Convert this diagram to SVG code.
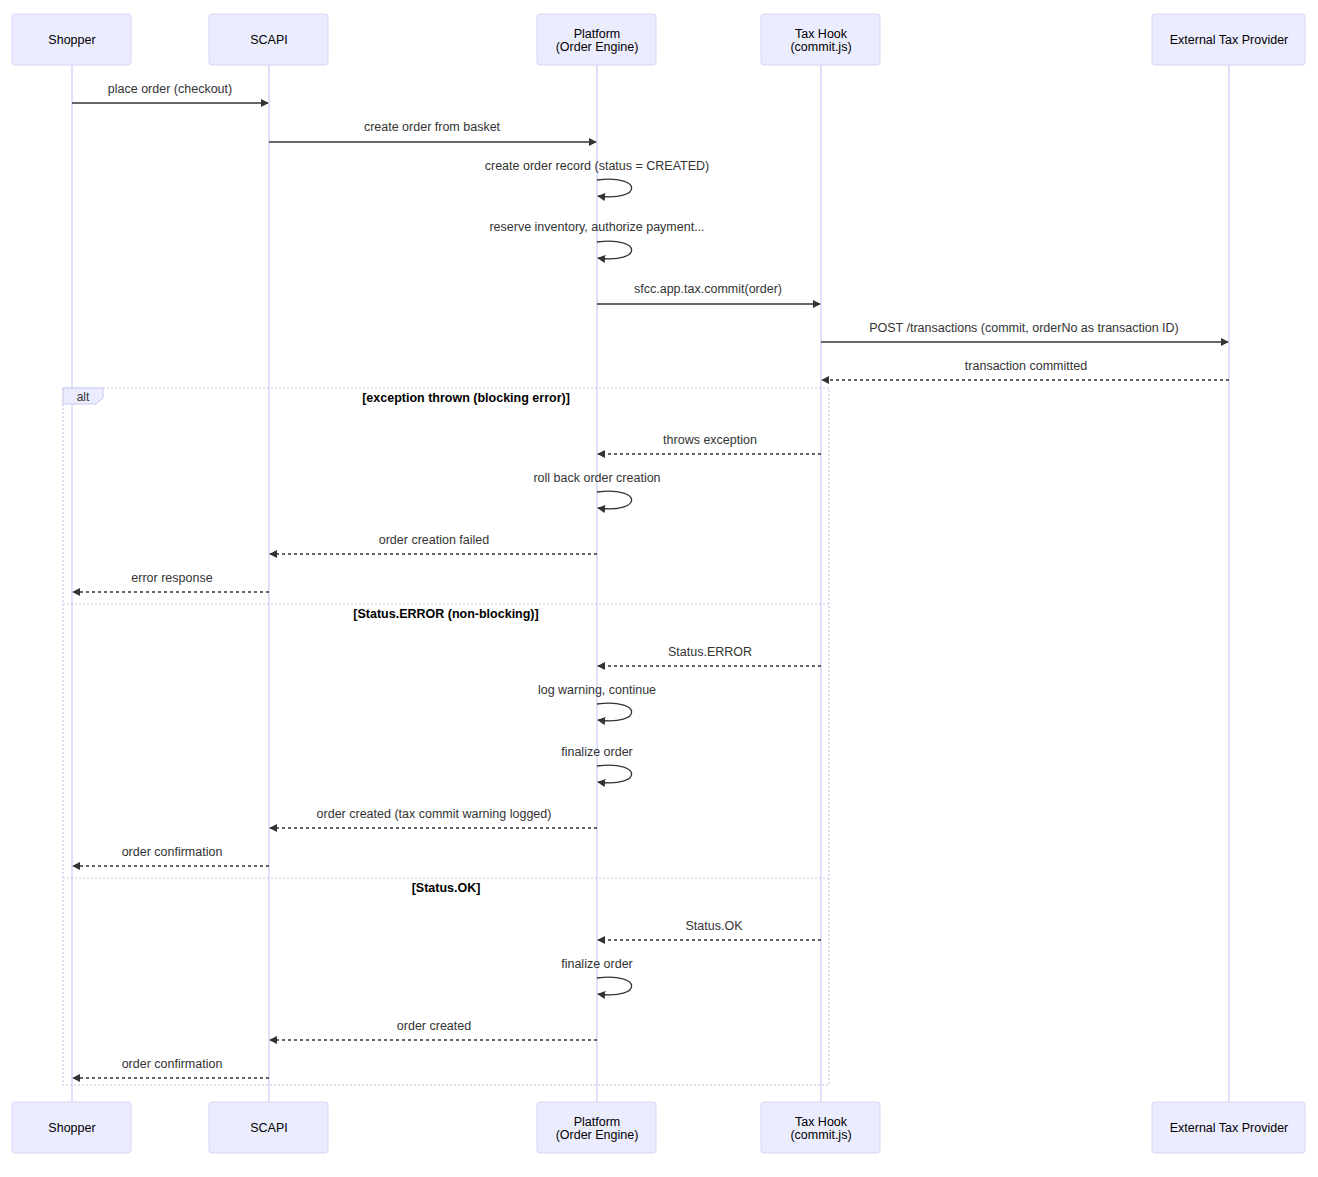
<svg xmlns="http://www.w3.org/2000/svg" width="1318" height="1177" viewBox="0 0 1318 1177">
<style>
text{font-family:"Liberation Sans",Arial,sans-serif;font-size:12.5px;fill:#333;text-anchor:middle}
.actor rect{fill:#ECECFF;stroke:#d6d6f7;stroke-width:1}
.actor text{fill:#000}
.life{stroke:#d6d6f7;stroke-width:1.5}
.m{stroke:#333;stroke-width:1.3;fill:none;marker-end:url(#ah)}
.d{stroke-dasharray:3,3}
.frame{fill:none;stroke:#c8c8e8;stroke-width:1.2;stroke-dasharray:2,2}
.b{font-weight:bold;fill:#000}
</style>
<defs>
<marker id="ah" viewBox="0 0 10 10" refX="9" refY="5" markerWidth="8" markerHeight="8" orient="auto-start-reverse" markerUnits="userSpaceOnUse"><path d="M0,0L10,5L0,10z" fill="#333"/></marker>
</defs>
<rect width="1318" height="1177" fill="#fff"/>
<g id="lifelines">
<line class="life" x1="72" y1="65" x2="72" y2="1102"/>
<line class="life" x1="269" y1="65" x2="269" y2="1102"/>
<line class="life" x1="597" y1="65" x2="597" y2="1102"/>
<line class="life" x1="821" y1="65" x2="821" y2="1102"/>
<line class="life" x1="1229" y1="65" x2="1229" y2="1102"/>
</g>
<g id="alt">
<rect class="frame" x="63" y="388" width="766" height="697"/>
<path d="M63,388H103V398L96,404H63Z" fill="#ECECFF" stroke="#c8c8e8" stroke-width="1"/>
<text x="83" y="401" style="font-size:12px">alt</text>
<text class="b" x="466" y="402">[exception thrown (blocking error)]</text>
<line class="frame" x1="63" y1="604" x2="829" y2="604"/>
<text class="b" x="446" y="618">[Status.ERROR (non-blocking)]</text>
<line class="frame" x1="63" y1="878" x2="829" y2="878"/>
<text class="b" x="446" y="892">[Status.OK]</text>
</g>
<g id="shopper" class="actor"><rect x="12" y="14" width="119" height="51" rx="3"/><text x="72" y="44">Shopper</text></g>
<g id="scapi" class="actor"><rect x="209" y="14" width="119" height="51" rx="3"/><text x="269" y="44">SCAPI</text></g>
<g id="platform" class="actor"><rect x="537" y="14" width="119" height="51" rx="3"/><text x="597" y="38">Platform</text><text x="597" y="51">(Order Engine)</text></g>
<g id="taxhook" class="actor"><rect x="761" y="14" width="119" height="51" rx="3"/><text x="821" y="38">Tax Hook</text><text x="821" y="51">(commit.js)</text></g>
<g id="external" class="actor"><rect x="1152" y="14" width="153" height="51" rx="3"/><text x="1229" y="44">External Tax Provider</text></g>
<g id="shopper-bottom" class="actor"><rect x="12" y="1102" width="119" height="51" rx="3"/><text x="72" y="1132">Shopper</text></g>
<g id="scapi-bottom" class="actor"><rect x="209" y="1102" width="119" height="51" rx="3"/><text x="269" y="1132">SCAPI</text></g>
<g id="platform-bottom" class="actor"><rect x="537" y="1102" width="119" height="51" rx="3"/><text x="597" y="1126">Platform</text><text x="597" y="1139">(Order Engine)</text></g>
<g id="taxhook-bottom" class="actor"><rect x="761" y="1102" width="119" height="51" rx="3"/><text x="821" y="1126">Tax Hook</text><text x="821" y="1139">(commit.js)</text></g>
<g id="external-bottom" class="actor"><rect x="1152" y="1102" width="153" height="51" rx="3"/><text x="1229" y="1132">External Tax Provider</text></g>
<g id="connectors">
<line class="m" x1="72" y1="103" x2="268" y2="103"/><text x="170" y="93">place order (checkout)</text>
<line class="m" x1="269" y1="142" x2="596" y2="142"/><text x="432" y="131">create order from basket</text>
<text x="597" y="170">create order record (status = CREATED)</text>
<path class="m" d="M597,180C643,174 643,202 598,196"/>
<text x="597" y="231">reserve inventory, authorize payment...</text>
<path class="m" d="M597,242C643,236 643,264 598,258"/>
<line class="m" x1="597" y1="304" x2="820" y2="304"/><text x="708" y="293">sfcc.app.tax.commit(order)</text>
<line class="m" x1="821" y1="342" x2="1228" y2="342"/><text x="1024" y="332">POST /transactions (commit, orderNo as transaction ID)</text>
<line class="m d" x1="1229" y1="380" x2="822" y2="380"/><text x="1026" y="370">transaction committed</text>
<line class="m d" x1="821" y1="454" x2="598" y2="454"/><text x="710" y="444">throws exception</text>
<text x="597" y="482">roll back order creation</text>
<path class="m" d="M597,492C643,486 643,514 598,508"/>
<line class="m d" x1="597" y1="554" x2="270" y2="554"/><text x="434" y="544">order creation failed</text>
<line class="m d" x1="269" y1="592" x2="73" y2="592"/><text x="172" y="582">error response</text>
<line class="m d" x1="821" y1="666" x2="598" y2="666"/><text x="710" y="656">Status.ERROR</text>
<text x="597" y="694">log warning, continue</text>
<path class="m" d="M597,704C643,698 643,726 598,720"/>
<text x="597" y="756">finalize order</text>
<path class="m" d="M597,766C643,760 643,788 598,782"/>
<line class="m d" x1="597" y1="828" x2="270" y2="828"/><text x="434" y="818">order created (tax commit warning logged)</text>
<line class="m d" x1="269" y1="866" x2="73" y2="866"/><text x="172" y="856">order confirmation</text>
<line class="m d" x1="821" y1="940" x2="598" y2="940"/><text x="714" y="930">Status.OK</text>
<text x="597" y="968">finalize order</text>
<path class="m" d="M597,978C643,972 643,1000 598,994"/>
<line class="m d" x1="597" y1="1040" x2="270" y2="1040"/><text x="434" y="1030">order created</text>
<line class="m d" x1="269" y1="1078" x2="73" y2="1078"/><text x="172" y="1068">order confirmation</text>
</g>
</svg>
